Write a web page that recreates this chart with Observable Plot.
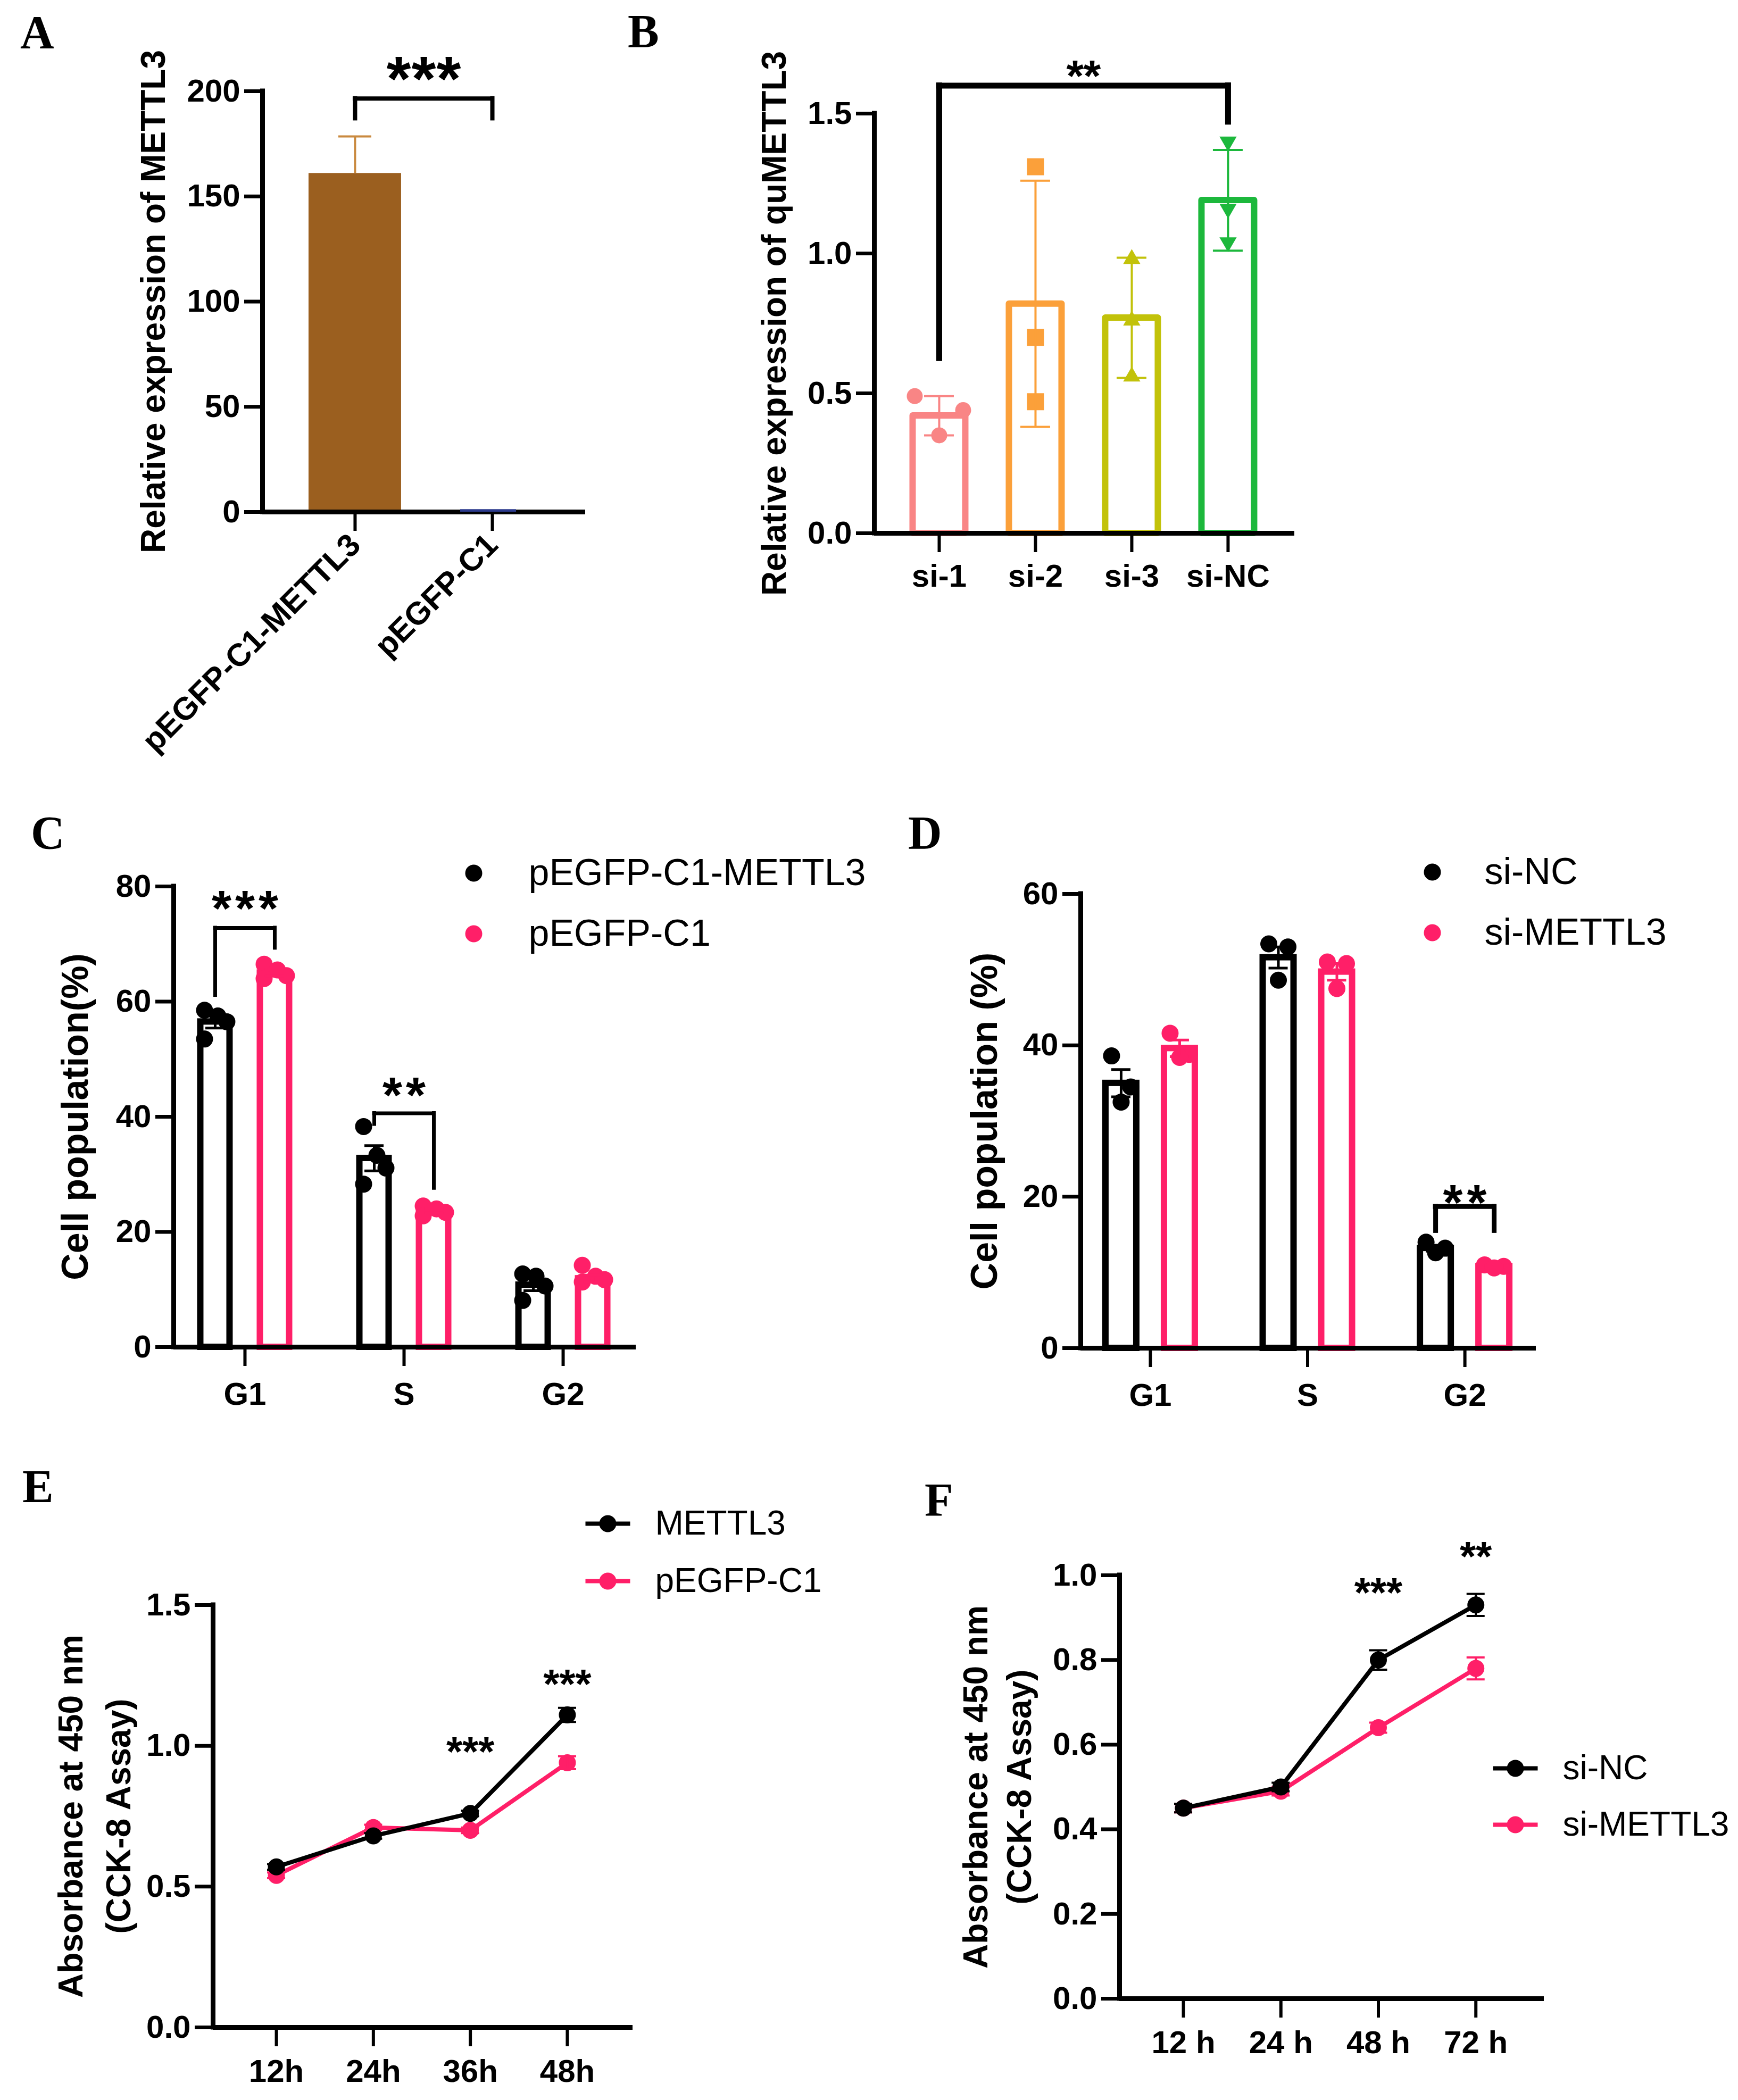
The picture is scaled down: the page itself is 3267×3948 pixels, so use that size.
<!DOCTYPE html>
<html lang="en">
<head>
<meta charset="UTF-8">
<title>METTL3 panels</title>
<script src="https://cdn.jsdelivr.net/npm/d3@7"></script>
<script src="https://cdn.jsdelivr.net/npm/@observablehq/plot@0.6"></script>
<style>
  body { margin: 0; background: #fff; }
  #fig { position: relative; width: 3267px; height: 3948px; background: #fff; }
</style>
</head>
<body>
<div id="fig"></div>
<script>
// ---- A: METTL3 overexpression ----
const aGroups = ["pEGFP-C1-METTL3", "pEGFP-C1"];
const aMean = [161, 1.2];
const aSD = [17.5, 0];
const aColors = ["#9b5f1f", "#2b3a8c"];
const aSig = [{g1: 0, g2: 1, y: 196.5, yl: 187, yr: 187, star: 210, label: "***"}];

// ---- B: knockdown ----
const bGroups = ["si-1", "si-2", "si-3", "si-NC"];
const bMean = [0.42, 0.82, 0.77, 1.19];
const bSD = [0.07, 0.44, 0.215, 0.18];
const bPoints = [[0.49, 0.44, 0.35], [1.31, 0.70, 0.47], [0.98, 0.76, 0.56], [1.40, 1.16, 1.04]];
const bColors = ["#f98585", "#fba03a", "#c2c20a", "#1cb83c"];
const bSig = [{g1: 0, g2: 3, y: 1.60, yl: 0.625, yr: 1.47, star: 1.655, label: "**"}];

// ---- C: cell cycle, overexpression ----
const phases = ["G1", "S", "G2"];
const cSeries = ["pEGFP-C1-METTL3", "pEGFP-C1"];
const cMean = [[56.5, 32.8, 10.8], [65.0, 23.7, 11.9]];
const cSEM = [[1.1, 2.2, 1.0], [0.6, 0.4, 0.6]];
const cPoints = [
  [[58.5, 57.5, 56.5, 53.5], [38.3, 33.3, 31.1, 28.3], [12.7, 12.3, 10.6, 8.1]],
  [[66.5, 65.5, 64.5, 64.0], [24.5, 24.0, 23.4, 22.8], [14.2, 12.3, 11.7, 11.3]]
];
const cSig = [
  {g: 0, y: 72.8, yl: 61.1, yr: 69.3, star: 77.4, label: "***"},
  {g: 1, y: 40.6, yl: 38.7, yr: 27.6, star: 45.0, label: "**"}
];

// ---- D: cell cycle, knockdown ----
const dSeries = ["si-NC", "si-METTL3"];
const dMean = [[35.0, 51.6, 13.2], [39.6, 49.7, 10.8]];
const dSEM = [[1.8, 1.4, 0.4], [1.1, 1.1, 0.15]];
const dPoints = [
  [[38.6, 34.5, 32.5], [53.4, 53.0, 48.6], [14.0, 13.2, 12.6]],
  [[41.6, 38.8, 38.4], [51.0, 50.8, 47.5], [11.0, 10.8, 10.6]]
];
const dSig = [{g: 2, y: 18.7, yl: 15.5, yr: 15.5, star: 20.2, label: "**"}];

// ---- E: CCK-8, overexpression ----
const eTimes = ["12h", "24h", "36h", "48h"];
const eSeries = ["METTL3", "pEGFP-C1"];
const eValues = [[0.57, 0.68, 0.76, 1.11], [0.54, 0.71, 0.70, 0.94]];
const eErr = [[0.01, 0.01, 0.01, 0.025], [0.01, 0.01, 0.01, 0.023]];
const eSig = [{t: 2, star: 1.00, label: "***"}, {t: 3, star: 1.24, label: "***"}];

// ---- F: CCK-8, knockdown ----
const fTimes = ["12 h", "24 h", "48 h", "72 h"];
const fSeries = ["si-NC", "si-METTL3"];
const fValues = [[0.45, 0.50, 0.80, 0.93], [0.45, 0.49, 0.64, 0.78]];
const fErr = [[0.01, 0.01, 0.023, 0.026], [0.01, 0.01, 0.012, 0.026]];
const fSig = [{t: 2, star: 0.972, label: "***"}, {t: 3, star: 1.058, label: "**"}];

const FONT = '"Liberation Sans", Arial, Helvetica, sans-serif';
const BLACK = "#000000", PINK = "#ff1f68";
const fig = document.getElementById("fig");

// symbols that d3 doesn't have
const triangleDown = {draw(ctx, size) {
  const y = -Math.sqrt(size / (Math.sqrt(3) * 3));
  ctx.moveTo(0, -y * 2); ctx.lineTo(-Math.sqrt(3) * y, y); ctx.lineTo(Math.sqrt(3) * y, y); ctx.closePath();
}};
const lineSwatch = {draw(ctx) {
  ctx.rect(-42, -4, 84, 8); ctx.moveTo(16, 0); ctx.arc(0, 0, 16, 0, 2 * Math.PI);
}};

// asterisks one by one, so the spacing can follow the original
function stars(rows, x, fs, pitch) {
  return rows.flatMap(r => d3.range(r.label.length).map(k =>
    Plot.text([r], {x, y: "star", text: d => d.label[k], fontSize: fs, fontWeight: "bold",
      dx: (k - (r.label.length - 1) / 2) * pitch, dy: 0.16 * fs})));
}

function bracket(rows, x1, x2, sw, fs, pitch) {
  return [
    Plot.ruleY(rows, {y: "y", x1, x2, strokeWidth: sw, strokeLinecap: "square"}),
    Plot.ruleX(rows, {x: x1, y1: "yl", y2: "y", strokeWidth: sw, strokeLinecap: "square"}),
    Plot.ruleX(rows, {x: x2, y1: "yr", y2: "y", strokeWidth: sw, strokeLinecap: "square"}),
    ...stars(rows, d => (x1(d) + x2(d)) / 2, fs, pitch)
  ];
}

function errorBars(rows, cap, sw, both = true) {
  const m = [
    Plot.ruleX(rows, {x: "x", y1: d => both ? d.v - d.e : d.v, y2: d => d.v + d.e, stroke: "c", strokeWidth: sw}),
    Plot.ruleY(rows, {y: d => d.v + d.e, x1: d => d.x - cap, x2: d => d.x + cap, stroke: "c", strokeWidth: sw})
  ];
  if (both) m.push(Plot.ruleY(rows, {y: d => d.v - d.e, x1: d => d.x - cap, x2: d => d.x + cap, stroke: "c", strokeWidth: sw}));
  return m;
}

function legend(names, colors, x, ys, tx, fs, at, symbol, r) {
  return names.flatMap((n, k) => [
    Plot.dot([n], {frameAnchor: "top-left", ...at(x, ys[k]), r, fill: colors[k], symbol}),
    Plot.text([n], {frameAnchor: "top-left", ...at(tx, ys[k]), text: d => d, textAnchor: "start", lineAnchor: "middle",
      fontSize: fs, fontWeight: "normal"})
  ]);
}

// one panel = one svg, placed so that its frame lands on the given page box
function panel(p) {
  const [L, T, W, H] = p.box, [fx0, fy0, fx1, fy1] = p.frame;
  const [x0, x1] = p.xDomain, [y0, y1] = p.yDomain;
  const step = (fx1 - fx0) / (x1 - x0);
  const px = v => v / step;
  const at = (ax, ay) => ({dx: ax - fx0, dy: ay - fy0});
  const svg = Plot.plot({
    width: W, height: H,
    marginLeft: fx0 - L, marginRight: L + W - fx1, marginTop: fy0 - T, marginBottom: T + H - fy1,
    x: {domain: p.xDomain},
    y: {domain: p.yDomain},
    color: {type: "identity"},
    style: {fontFamily: FONT, fontWeight: "bold", background: "none", overflow: "visible", color: "#000"},
    marks: [
      ...p.marks(px, at),
      Plot.ruleX([x0], {y1: y0, y2: y1, strokeWidth: 9, strokeLinecap: "square"}),
      Plot.ruleY([y0], {x1: x0, x2: x1, strokeWidth: 9}),
      Plot.axisY(p.yTicks, {tickSize: 34, tickPadding: 8, strokeWidth: 7, tickFormat: p.yFormat, fontSize: 60, fontWeight: "bold", label: null}),
      Plot.axisX(d3.range(p.cats.length), {tickSize: 36, tickPadding: p.xPad ?? 22, strokeWidth: 6, tickFormat: i => p.cats[i],
        tickRotate: p.rotate ?? 0, fontSize: 60, fontWeight: "bold", label: null}),
      ...p.ylabel.map((t, k) => Plot.text([t], {frameAnchor: "left", rotate: -90, dx: p.ylabelX[k] - fx0, text: d => d,
        textAnchor: "middle", lineAnchor: "middle", fontSize: p.ylabelSize, fontWeight: "bold"})),
      ...(p.top ? p.top(px) : [])
    ]
  });
  svg.style.position = "absolute";
  svg.style.left = L + "px";
  svg.style.top = T + "px";
  fig.appendChild(svg);
}

// A
const aRows = aGroups.map((g, i) => ({x: i, v: aMean[i], e: aSD[i], c: aColors[i]}));
panel({
  box: [0, 0, 1200, 1480], frame: [493, 171, 1100, 962],
  xDomain: [-0.674, 1.678], yDomain: [0, 200], yTicks: [0, 50, 100, 150, 200], yFormat: d3.format("d"),
  cats: aGroups, rotate: -45, xPad: 16,
  ylabel: ["Relative expression of METTL3"], ylabelX: [289], ylabelSize: 64,
  marks: (px) => {
    const err = aRows.filter(d => d.e > 0).map(d => ({...d, c: "#c9893f"}));
    return [
      Plot.rectY(aRows.slice(0, 1), {x1: d => d.x - px(87), x2: d => d.x + px(87), y1: 0, y2: "v", fill: "c", inset: 0}),
      ...errorBars(err, px(31), 4, false),
      ...bracket(aSig, d => d.g1, d => d.g2, 8, 118, 47)
    ];
  },
  // the near-zero control bar shows as a thin line lying on the axis
  top: (px) => [Plot.rectY(aRows.slice(1), {x1: d => d.x - px(60), x2: d => d.x + px(45), y1: 0, y2: "v", fill: "c", inset: 0})]
});

// B
panel({
  box: [1200, 0, 1400, 1200], frame: [1643, 213, 2433, 1002],
  xDomain: [-0.674, 3.691], yDomain: [0, 1.5], yTicks: [0, 0.5, 1, 1.5], yFormat: d3.format(".1f"),
  cats: bGroups, xPad: 22,
  ylabel: ["Relative expression of quMETTL3"], ylabelX: [1456], ylabelSize: 64,
  marks: (px) => {
    const bars = bGroups.map((g, i) => ({x: i, v: bMean[i], e: bSD[i], c: bColors[i]}));
    const syms = ["circle", "square", "triangle", triangleDown];
    const rs = [15, 18, 12, 12];
    const spread = [[-46, 45, 0], null, null, null];
    const pts = bPoints.flatMap((vals, i) => vals.map((v, k) => ({i, k, v})));
    return [
      Plot.rectY(bars, {x1: d => d.x - px(49.5), x2: d => d.x + px(49.5), y1: 0, y2: "v", fill: "white", stroke: "c",
        strokeWidth: 12, strokeLinejoin: "round", inset: 0}),
      ...bGroups.map((g, i) => Plot.dot(pts.filter(d => d.i === i), {
        x: d => d.i + (spread[i] ? px(spread[i][d.k]) : 0), y: "v", symbol: syms[i], r: rs[i], fill: bColors[i]})),
      ...errorBars(bars, px(28), 4),
      ...bracket(bSig, d => d.g1, d => d.g2, 11, 84, 32)
    ];
  }
});

// C
panel({
  box: [0, 1480, 1650, 1180], frame: [326, 1666, 1195, 2532],
  xDomain: [-0.448, 2.458], yDomain: [0, 80], yTicks: [0, 20, 40, 60, 80], yFormat: d3.format("d"),
  cats: phases, xPad: 30,
  ylabel: ["Cell population(%)"], ylabelX: [142], ylabelSize: 70,
  marks: (px, at) => {
    const off = 56, jit = [-20, 5, 22, -20], cols = [BLACK, PINK];
    const bars = cSeries.flatMap((s, j) => phases.map((p, i) => ({x: i + px(j ? off : -off), v: cMean[j][i], e: cSEM[j][i], c: cols[j]})));
    const pts = cSeries.flatMap((s, j) => phases.flatMap((p, i) => cPoints[j][i].map((v, k) =>
      ({x: i + px((j ? off : -off) + jit[k]), v, c: cols[j]}))));
    return [
      Plot.rectY(bars, {x1: d => d.x - px(27.5), x2: d => d.x + px(27.5), y1: 0, y2: "v", fill: "white", stroke: "c", strokeWidth: 12, inset: 0}),
      Plot.dot(pts, {x: "x", y: "v", r: 16, fill: "c"}),
      ...errorBars(bars, px(18), 5),
      ...bracket(cSig, d => d.g - px(off), d => d.g + px(off), 7, 95, 44),
      ...legend(cSeries, cols, 890, [1641, 1755], 993, 70, at, "circle", 16)
    ];
  }
});

// D
panel({
  box: [1650, 1480, 1617, 1180], frame: [2031, 1680, 2887, 2534],
  xDomain: [-0.443, 2.453], yDomain: [0, 60], yTicks: [0, 20, 40, 60], yFormat: d3.format("d"),
  cats: phases, xPad: 30,
  ylabel: ["Cell population (%)"], ylabelX: [1851], ylabelSize: 70,
  marks: (px, at) => {
    const off = 55, jit = [-18, 18, 0], cols = [BLACK, PINK];
    const bars = dSeries.flatMap((s, j) => phases.map((p, i) => ({x: i + px(j ? off : -off), v: dMean[j][i], e: dSEM[j][i], c: cols[j]})));
    const pts = dSeries.flatMap((s, j) => phases.flatMap((p, i) => dPoints[j][i].map((v, k) =>
      ({x: i + px((j ? off : -off) + jit[k]), v, c: cols[j]}))));
    return [
      Plot.rectY(bars, {x1: d => d.x - px(29), x2: d => d.x + px(29), y1: 0, y2: "v", fill: "white", stroke: "c", strokeWidth: 12, inset: 0}),
      Plot.dot(pts, {x: "x", y: "v", r: 16, fill: "c"}),
      ...errorBars(bars, px(18), 5),
      ...bracket(dSig, d => d.g - px(off), d => d.g + px(off), 9, 95, 45),
      ...legend(dSeries, cols, 2692, [1639, 1753], 2790, 70, at, "circle", 16)
    ];
  }
});

// line panels share everything but their numbers
function growthMarks(values, errs, names, sig, px, at, lg) {
  const cols = [BLACK, PINK];
  const series = values.map((vals, j) => vals.map((v, i) => ({x: i, v, e: errs[j][i], c: cols[j]})));
  const drawn = [1, 0].flatMap(j => [
    Plot.line(series[j], {x: "x", y: "v", stroke: cols[j], strokeWidth: 8}),
    Plot.dot(series[j], {x: "x", y: "v", r: 16, fill: cols[j]}),
    ...errorBars(series[j], px(17), 4)
  ]);
  return [
    ...drawn,
    ...stars(sig, "t", 78, 30),
    ...legend(names, cols, lg.x, lg.ys, lg.tx, 64, at, lineSwatch, 16)
  ];
}

// E
panel({
  box: [0, 2700, 1650, 1248], frame: [400, 3017, 1189, 3811],
  xDomain: [-0.653, 3.675], yDomain: [0, 1.5], yTicks: [0, 0.5, 1, 1.5], yFormat: d3.format(".1f"),
  cats: eTimes, xPad: 24,
  ylabel: ["Absorbance at 450 nm", "(CCK-8 Assay)"], ylabelX: [134, 224], ylabelSize: 64,
  marks: (px, at) => growthMarks(eValues, eErr, eSeries, eSig, px, at, {x: 1142, ys: [2864, 2972], tx: 1231})
});

// F
panel({
  box: [1650, 2700, 1617, 1248], frame: [2104, 2961, 2902, 3757],
  xDomain: [-0.655, 3.700], yDomain: [0, 1], yTicks: [0, 0.2, 0.4, 0.6, 0.8, 1], yFormat: d3.format(".1f"),
  cats: fTimes, xPad: 24,
  ylabel: ["Absorbance at 450 nm", "(CCK-8 Assay)"], ylabelX: [1835, 1917], ylabelSize: 64,
  marks: (px, at) => growthMarks(fValues, fErr, fSeries, fSig, px, at, {x: 2848, ys: [3324, 3430], tx: 2937})
});

// panel letters
const letters = [["A", 38, 90], ["B", 1180, 88], ["C", 58, 1595], ["D", 1707, 1595], ["E", 42, 2824], ["F", 1738, 2849]];
const overlay = d3.create("svg")
  .attr("width", 3267).attr("height", 3948)
  .style("position", "absolute").style("left", "0px").style("top", "0px").style("pointer-events", "none");
overlay.selectAll("text").data(letters).join("text")
  .attr("x", d => d[1]).attr("y", d => d[2])
  .attr("font-family", '"Liberation Serif", "Times New Roman", serif')
  .attr("font-weight", "bold").attr("font-size", 88)
  .text(d => d[0]);
fig.appendChild(overlay.node());
</script>
</body>
</html>
